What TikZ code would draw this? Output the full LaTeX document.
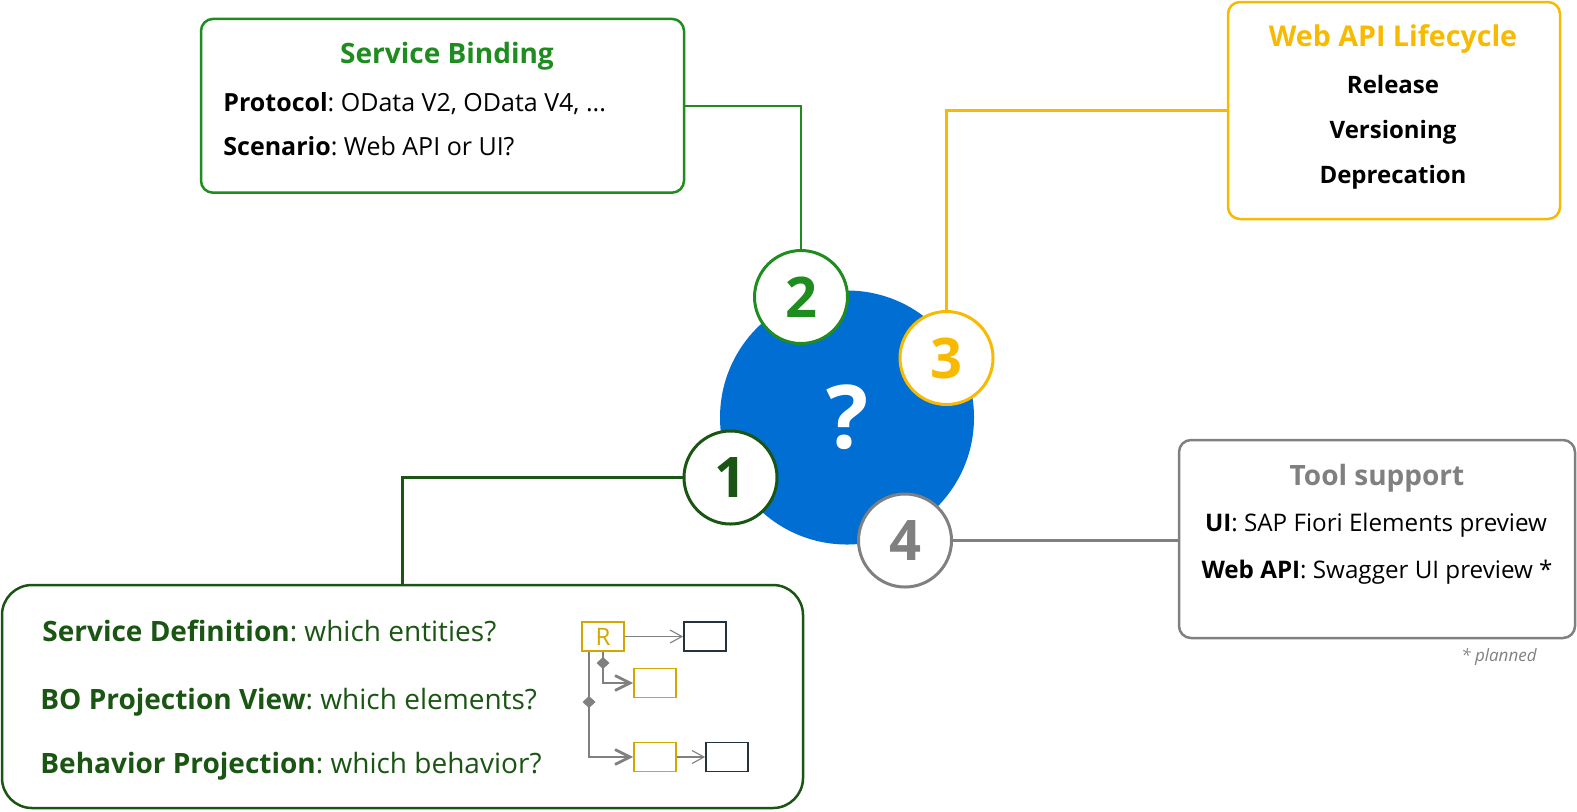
\documentclass[tikz,border=0pt]{standalone}
\usepackage{fontspec}
\setmainfont{Open Sans}
\usetikzlibrary{arrows.meta}
\definecolor{bindgreen}{RGB}{30,140,30}
\definecolor{projgreen}{RGB}{27,85,20}
\definecolor{lifeyellow}{RGB}{248,186,0}
\definecolor{rgold}{RGB}{212,166,0}
\definecolor{toolgray}{RGB}{128,128,128}
\definecolor{qblue}{RGB}{0,110,210}
\definecolor{entdark}{RGB}{35,50,60}
\frenchspacing
\tikzset{
  infobox/.style={draw, line width=1.25pt, rounded corners=6pt, fill=white, inner sep=0pt},
  numcircle/.style={circle, draw, fill=white, line width=1.5pt, minimum size=46.5pt,
    inner sep=0pt, font=\fontsize{28}{30}\selectfont\bfseries},
  link/.style={line width=1.1pt},
  titletext/.style={anchor=base, inner sep=0pt, font=\fontsize{14}{16}\selectfont\bfseries},
  bodytext/.style={anchor=base west, inner sep=0pt, font=\fontsize{12.5}{14}\selectfont},
  projtext/.style={anchor=base west, inner sep=0pt, text=projgreen, font=\fontsize{14}{16}\selectfont},
  tooltext/.style={anchor=base, inner sep=0pt, font=\fontsize{12.1}{14}\selectfont},
  entbox/.style={draw, line width=0.85pt, minimum width=21pt, minimum height=14.5pt, inner sep=0pt},
  comp/.style={draw=toolgray, line width=1.4pt, -{Straight Barb[length=7.5pt, width=7.5pt]}},
  assoc/.style={draw=toolgray, line width=0.55pt, -{Straight Barb[length=6pt, width=6.5pt]}}
}
\begin{document}
\begin{tikzpicture}[x=0.5pt, y=-0.5pt]
  \useasboundingbox (0,0) rectangle (1577,811);

  % boxes
  \node[infobox, draw=bindgreen, minimum width=241.5pt, minimum height=86.9pt] (bind) at (442.5,105.8){};
  \node[infobox, draw=lifeyellow, minimum width=166pt, minimum height=108.5pt] (life) at (1394,110.5){};
  \node[infobox, draw=toolgray, minimum width=198pt, minimum height=99pt] (tool) at (1377,539){};
  \node[infobox, draw=projgreen, rounded corners=15pt, minimum width=400.5pt, minimum height=111.5pt] (proj) at (402.5,696.5){};

  % service binding
  \node[titletext, text=bindgreen] (bindtitle) at (447,63.3){Service Binding};
  \node[bodytext] (bindproto) at (223,111.7){\textbf{Protocol}: OData V2, OData V4, ...};
  \node[bodytext] (bindscen) at (223,155.7){\textbf{Scenario}: Web API or UI?};

  % web api lifecycle
  \node[titletext, text=lifeyellow, font=\fontsize{14.3}{16}\selectfont\bfseries] (lifetitle) at (1393,46.7){Web API Lifecycle};
  \node[titletext, font=\fontsize{12}{14}\selectfont\bfseries] (liferel) at (1393,93.3){Release};
  \node[titletext, font=\fontsize{12}{14}\selectfont\bfseries] (lifever) at (1393,138.3){Versioning};
  \node[titletext, font=\fontsize{12}{14}\selectfont\bfseries] (lifedep) at (1393,183.3){Deprecation};

  % tool support
  \node[titletext, text=toolgray] (tooltitle) at (1377,485){Tool support};
  \node[tooltext] (toolui) at (1376,531.7){\textbf{UI}: SAP Fiori Elements preview};
  \node[tooltext] (toolapi) at (1377,578.3){\textbf{Web API}: Swagger UI preview *};
  \node[anchor=base east, inner sep=0pt, text=toolgray, font=\fontsize{8.5}{10}\selectfont\itshape] (planned) at (1537,661){* planned};

  % projection
  \node[projtext] (projdef) at (42,641){\textbf{Service Definition}: which entities?};
  \node[projtext] (projview) at (40,709.3){\textbf{BO Projection View}: which elements?};
  \node[projtext] (projbeh) at (40,773.3){\textbf{Behavior Projection}: which behavior?};

  % entity sketch
  \node[entbox, draw=rgold, text=rgold, font=\fontsize{12}{12}\selectfont] (rroot) at (603,636.5){R};
  \node[entbox, draw=entdark] (ext1) at (705,636.5){};
  \node[entbox, draw=rgold] (child1) at (655,683){};
  \node[entbox, draw=rgold] (child2) at (655,757){};
  \node[entbox, draw=entdark] (ext2) at (727,757){};
  \draw[assoc] (rroot.east) -- (ext1.west);
  \draw[assoc] (child2.east) -- (ext2.west);
  \draw[comp] (rroot.south) |- (child1.west);
  \draw[comp] ([xshift=-7pt]rroot.south) |- (child2.west);
  \fill[toolgray] (603,657) -- (609.5,663) -- (603,669) -- (596.5,663) -- cycle;
  \fill[toolgray] (589,696) -- (595.5,702) -- (589,708) -- (582.5,702) -- cycle;

  % centre
  \node[circle, fill=qblue, minimum size=127pt, inner sep=0pt, text=white, font=\fontsize{44}{46}\selectfont\bfseries] (quest) at (847,417.5){?};
  \node[numcircle, draw=bindgreen, text=bindgreen] (c2) at (801,297){2};
  \node[numcircle, draw=lifeyellow, text=lifeyellow] (c3) at (946.5,358){3};
  \node[numcircle, draw=projgreen, text=projgreen] (c1) at (730.5,477.5){1};
  \node[numcircle, draw=toolgray, text=toolgray] (c4) at (905,540.5){4};

  % links
  \draw[link, bindgreen] (bind.east) -| (c2.north);
  \draw[link, lifeyellow] (c3.north) |- (life.west);
  \draw[link, projgreen] (c1.west) -| (proj.north);
  \draw[link, toolgray] (c4.east) -- (c4.east -| tool.west);
\end{tikzpicture}
\end{document}
